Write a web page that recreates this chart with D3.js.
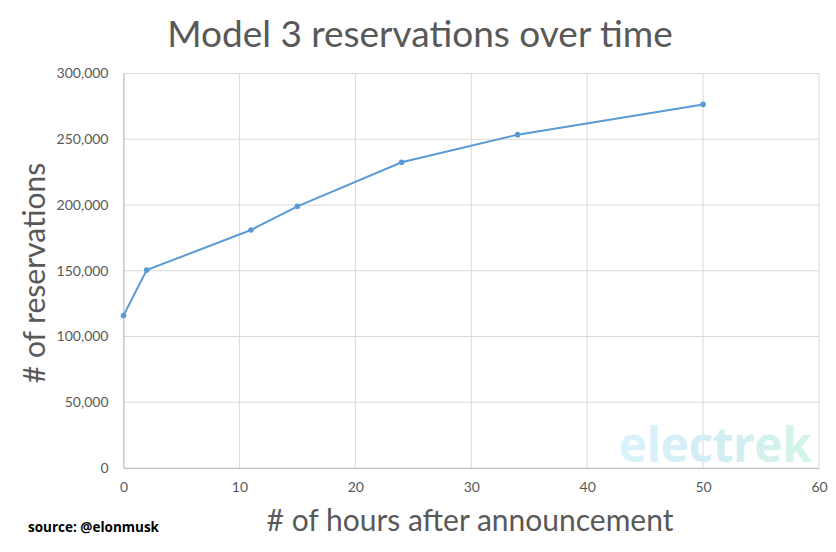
<!DOCTYPE html>
<html><head><meta charset="utf-8">
<script src="https://cdn.jsdelivr.net/npm/d3@7"></script>
<style>body{margin:0;background:#fff}svg{display:block}</style>
</head><body>
<svg id="c" width="836" height="552"></svg>
<script>
const hours = [0, 2, 11, 15, 24, 34, 50];
const reservations = [116000, 150500, 181000, 199000, 232500, 253500, 276500];
const xTicks = [0, 10, 20, 30, 40, 50, 60];
const yTicks = [0, 50000, 100000, 150000, 200000, 250000, 300000];
const title = "Model 3 reservations over time";
const xTitle = "# of hours after announcement";
const yTitle = "# of reservations";
const source = "source: @elonmusk";

const svg = d3.select("#c");
const font = "Lato, 'Open Sans', sans-serif";
const L = 123.5, R = 819, T = 73.5, B = 468;
const x = d3.scaleLinear().domain([0, 60]).range([L, R]);
const y = d3.scaleLinear().domain([0, 300000]).range([B, T]);

// gridlines
svg.append("g").selectAll("line.v").data(xTicks).join("line")
  .attr("x1", d => x(d)).attr("x2", d => x(d)).attr("y1", T).attr("y2", B)
  .attr("stroke", "#d9d9d9").attr("stroke-width", 1);
svg.append("g").selectAll("line.h").data(yTicks).join("line")
  .attr("x1", L).attr("x2", R).attr("y1", d => y(d)).attr("y2", d => y(d))
  .attr("stroke", "#d9d9d9").attr("stroke-width", 1);

// watermark
const defs = svg.append("defs");
const g = defs.append("linearGradient").attr("id", "wm").attr("x1", "0").attr("x2", "1");
g.append("stop").attr("offset", "0").attr("stop-color", "#dbf3fd");
g.append("stop").attr("offset", "0.5").attr("stop-color", "#d2ecf5");
g.append("stop").attr("offset", "1").attr("stop-color", "#d3f5e8");
svg.append("text").text("electrek")
  .attr("x", 715).attr("y", 462).attr("text-anchor", "middle")
  .attr("font-family", "'Open Sans', sans-serif").attr("font-weight", 700)
  .attr("font-size", 48).attr("letter-spacing", "-0.5")
  .attr("fill", "url(#wm)");

// axes
const xAxis = d3.axisBottom(x).tickValues(xTicks).tickSize(0).tickPadding(14);
const gx = svg.append("g").attr("transform", `translate(0,${B})`).call(xAxis);
gx.select(".domain").attr("stroke", "#bfbfbf");
gx.selectAll("text").attr("font-family", font).attr("font-size", 14).attr("fill", "#595959");

const yAxis = d3.axisLeft(y).tickValues(yTicks).tickSize(0).tickPadding(15)
  .tickFormat(d3.format(","));
const gy = svg.append("g").attr("transform", `translate(${L},0)`).call(yAxis);
gy.select(".domain").attr("stroke", "#bfbfbf");
gy.selectAll("text").attr("font-family", font).attr("font-size", 14).attr("fill", "#595959");

// line
const data = hours.map((h, i) => ({h, v: reservations[i]}));
svg.append("path").datum(data)
  .attr("d", d3.line().x(d => x(d.h)).y(d => y(d.v)))
  .attr("fill", "none").attr("stroke", "#5b9bd5").attr("stroke-width", 2);
svg.append("g").selectAll("circle").data(data).join("circle")
  .attr("cx", d => x(d.h)).attr("cy", d => y(d.v)).attr("r", 2.8)
  .attr("fill", "#5b9bd5");

// titles
svg.append("text").text(title).attr("x", 420).attr("y", 47).attr("text-anchor", "middle")
  .attr("font-family", font).attr("font-size", 37).attr("fill", "#595959");
svg.append("text").text(xTitle).attr("x", 470).attr("y", 531).attr("text-anchor", "middle")
  .attr("font-family", font).attr("font-size", 30).attr("fill", "#595959");
svg.append("text").text(yTitle)
  .attr("transform", "translate(45,273) rotate(-90)").attr("text-anchor", "middle")
  .attr("font-family", font).attr("font-size", 30).attr("fill", "#595959");
svg.append("text").text(source).attr("x", 28).attr("y", 532)
  .attr("font-family", "'Open Sans', sans-serif").attr("font-weight", 700)
  .attr("font-size", 13.5).attr("fill", "#000");
</script>
</body></html>
